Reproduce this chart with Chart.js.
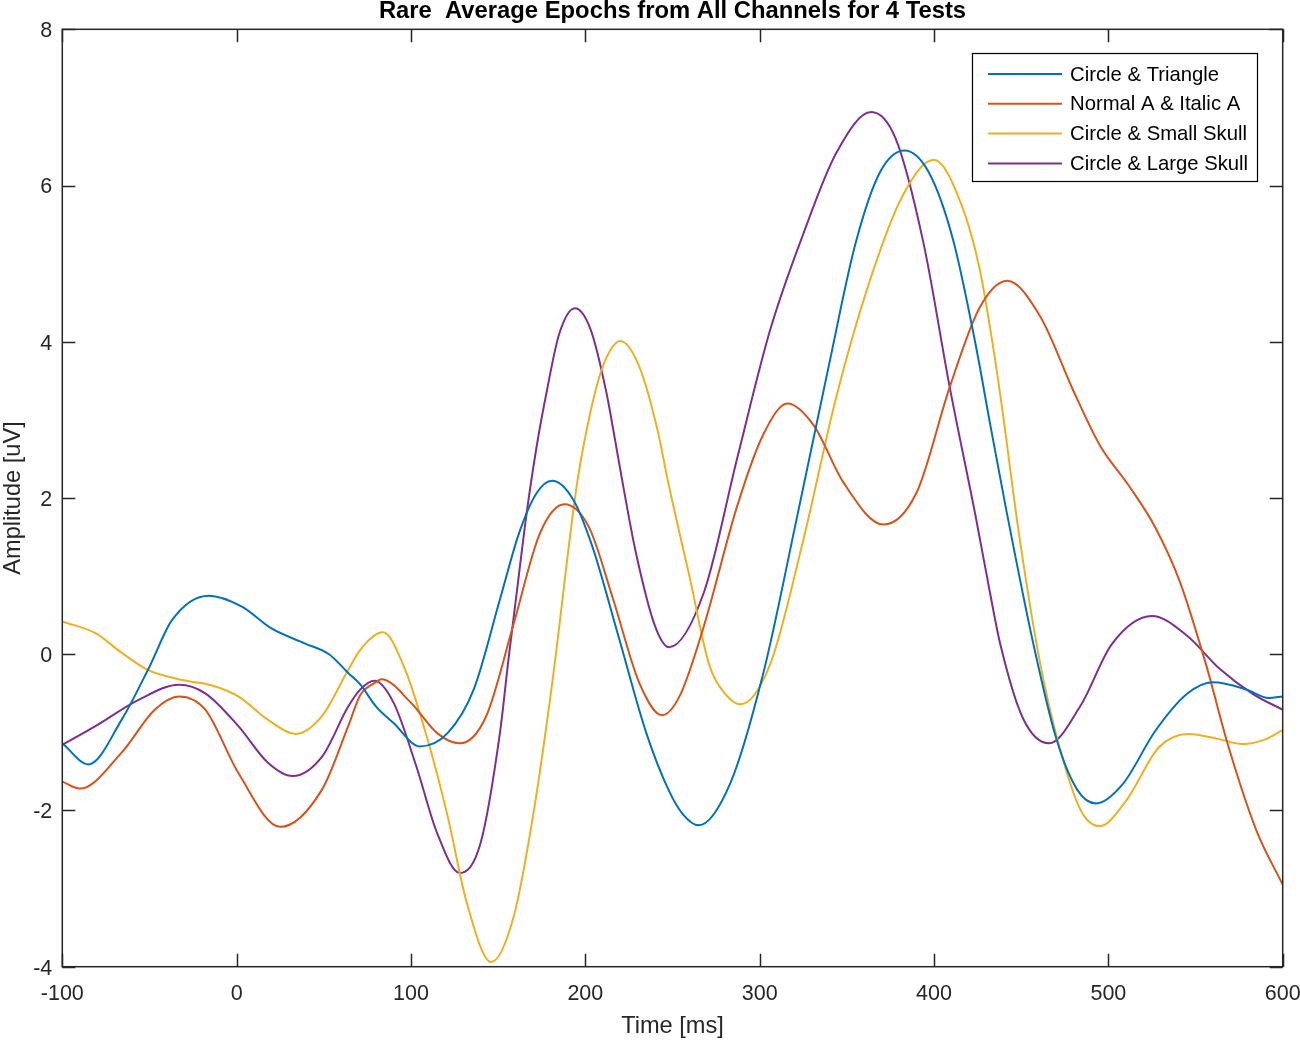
<!DOCTYPE html>
<html>
<head>
<meta charset="utf-8">
<script src="https://cdn.jsdelivr.net/npm/chart.js@4.4.1/dist/chart.umd.min.js"></script>
<style>
  html, body { margin: 0; padding: 0; background: #ffffff; }
  #wrap { width: 1300px; height: 1042px; }
</style>
</head>
<body>
<div id="wrap"><canvas id="c" width="1300" height="1042"></canvas></div>
<script>
// ---------- data ----------
const chartTitle = 'Rare  Average Epochs from All Channels for 4 Tests';
const xAxisLabel = 'Time [ms]';
const yAxisLabel = 'Amplitude [uV]';
const seriesNames = ['Circle & Triangle', 'Normal A & Italic A', 'Circle & Small Skull', 'Circle & Large Skull'];
const seriesColors = ['#0072BD', '#D95319', '#EDB120', '#7E2F8E'];
const xTickValues = [-100, 0, 100, 200, 300, 400, 500, 600];
const yTickValues = [-4, -2, 0, 2, 4, 6, 8];

// Circle & Triangle
const triangleTime = [-100, -85, -66, -50, -37, -16, 3, 20, 39, 53, 64, 71, 80, 90, 105, 121, 136, 151, 162, 172, 181, 193, 204, 219, 235, 248, 256, 265, 283, 302, 321, 340, 355, 369, 383, 397, 411, 424, 432, 441, 457, 470, 482, 493, 508, 527, 545, 560, 579, 592, 600];
const triangleAmp  = [-1.14, -1.41, -0.84, -0.16, 0.44, 0.75, 0.61, 0.33, 0.14, 0.0, -0.24, -0.39, -0.67, -0.88, -1.18, -1.01, -0.45, 0.70, 1.55, 2.06, 2.22, 1.98, 1.38, 0.23, -1.01, -1.75, -2.05, -2.19, -1.66, -0.25, 1.71, 3.73, 5.26, 6.17, 6.45, 6.17, 5.30, 3.95, 2.97, 1.90, 0.13, -1.07, -1.73, -1.91, -1.67, -0.98, -0.51, -0.36, -0.45, -0.56, -0.54];

// Normal A & Italic A
const italicTime = [-100, -90, -66, -47, -33, -18, 1, 25, 49, 64, 71, 79, 83, 100, 115, 128, 143, 159, 174, 188, 202, 216, 231, 244, 254, 268, 287, 302, 316, 331, 348, 371, 390, 409, 426, 442, 461, 480, 495, 512, 527, 541, 556, 569, 585, 600];
const italicAmp  = [-1.63, -1.72, -1.26, -0.71, -0.54, -0.71, -1.52, -2.21, -1.73, -0.92, -0.52, -0.37, -0.32, -0.62, -1.01, -1.14, -0.80, 0.40, 1.55, 1.92, 1.63, 0.70, -0.37, -0.78, -0.54, 0.36, 1.89, 2.81, 3.21, 2.93, 2.20, 1.66, 2.07, 3.42, 4.43, 4.78, 4.32, 3.37, 2.68, 2.15, 1.62, 0.93, -0.13, -1.19, -2.26, -2.95];

// Circle & Small Skull
const smallSkullTime = [-100, -81, -66, -51, -31, -14, 1, 18, 34, 49, 64, 71, 84, 96, 109, 121, 132, 146, 159, 170, 181, 195, 201, 208, 214, 220, 231, 241, 248, 260, 271, 280, 289, 306, 325, 344, 363, 382, 400, 416, 426, 432, 438, 449, 461, 472, 484, 495, 510, 529, 546, 564, 577, 590, 600];
const smallSkullAmp  = [0.42, 0.27, 0.02, -0.20, -0.33, -0.40, -0.54, -0.84, -1.02, -0.79, -0.20, 0.06, 0.28, -0.16, -1.05, -2.07, -3.18, -3.94, -3.35, -2.07, -0.37, 2.15, 2.90, 3.55, 3.88, 4.01, 3.68, 2.91, 2.15, 0.97, -0.13, -0.50, -0.64, -0.13, 1.46, 3.30, 4.77, 5.87, 6.33, 5.74, 4.95, 4.20, 3.32, 1.50, -0.13, -1.19, -1.99, -2.20, -1.88, -1.19, -1.02, -1.09, -1.15, -1.09, -0.97];

// Circle & Large Skull
const largeSkullTime = [-100, -81, -56, -33, -18, 1, 18, 32, 49, 64, 71, 79, 90, 103, 115, 128, 140, 151, 156, 161, 166, 172, 178, 185, 194, 203, 212, 217, 222, 229, 240, 248, 268, 287, 306, 325, 344, 364, 378, 394, 409, 424, 432, 438, 451, 466, 484, 502, 525, 545, 564, 583, 600];
const largeSkullAmp  = [-1.16, -0.92, -0.58, -0.39, -0.50, -0.92, -1.39, -1.56, -1.31, -0.67, -0.45, -0.34, -0.62, -1.43, -2.29, -2.80, -2.41, -1.01, -0.05, 0.85, 1.75, 2.65, 3.38, 4.10, 4.43, 4.16, 3.36, 2.75, 2.12, 1.30, 0.36, 0.09, 0.79, 2.50, 4.15, 5.38, 6.42, 6.94, 6.60, 5.26, 3.42, 1.75, 0.80, 0.13, -0.82, -1.14, -0.66, 0.13, 0.49, 0.24, -0.19, -0.51, -0.71];

// ---------- build ----------
const seriesTimes = [triangleTime, italicTime, smallSkullTime, largeSkullTime];
const seriesAmps = [triangleAmp, italicAmp, smallSkullAmp, largeSkullAmp];

const datasets = seriesNames.map((name, i) => ({
  label: name,
  data: seriesTimes[i].map((t, k) => ({ x: t, y: seriesAmps[i][k] })),
  borderColor: seriesColors[i],
  backgroundColor: seriesColors[i],
  borderWidth: 2,
  pointRadius: 0,
  fill: false,
  cubicInterpolationMode: 'monotone'
}));

const FONT = "'Liberation Sans', Arial, Helvetica, sans-serif";
const AXIS_COLOR = '#262626';

const framePlugin = {
  id: 'matlabFrame',
  afterDatasetsDraw(chart) {
    const { ctx, chartArea: a, scales: { x, y } } = chart;
    ctx.save();
    ctx.strokeStyle = AXIS_COLOR;
    ctx.lineWidth = 1.5;
    ctx.strokeRect(a.left, a.top, a.right - a.left, a.bottom - a.top);
    const L = 13;
    ctx.beginPath();
    x.ticks.forEach(t => {
      const px = Math.round(x.getPixelForValue(t.value)) + 0.5;
      ctx.moveTo(px, a.bottom); ctx.lineTo(px, a.bottom - L);
      ctx.moveTo(px, a.top); ctx.lineTo(px, a.top + L);
    });
    y.ticks.forEach(t => {
      const py = Math.round(y.getPixelForValue(t.value)) + 0.5;
      ctx.moveTo(a.left, py); ctx.lineTo(a.left + L, py);
      ctx.moveTo(a.right, py); ctx.lineTo(a.right - L, py);
    });
    ctx.stroke();

    // legend box (top-right, inside the axes)
    const bx = 972.5, by = 53.5, bw = 285, bh = 128;
    ctx.fillStyle = '#ffffff';
    ctx.fillRect(bx, by, bw, bh);
    ctx.lineWidth = 1.2;
    ctx.strokeStyle = '#000000';
    ctx.strokeRect(bx, by, bw, bh);
    ctx.font = '20.3px ' + FONT;
    ctx.textBaseline = 'middle';
    ctx.textAlign = 'left';
    chart.data.datasets.forEach((ds, i) => {
      const ry = 74 + i * 29.8;
      ctx.strokeStyle = ds.borderColor;
      ctx.lineWidth = 2;
      ctx.beginPath();
      ctx.moveTo(988, ry); ctx.lineTo(1062, ry);
      ctx.stroke();
      ctx.fillStyle = '#000000';
      ctx.fillText(ds.label, 1070, ry + 1);
    });
    ctx.restore();
  }
};

new Chart(document.getElementById('c'), {
  type: 'line',
  data: { datasets },
  options: {
    responsive: false,
    devicePixelRatio: 1,
    animation: false,
    events: [],
    layout: { padding: { left: 0, right: 17.3, top: 0, bottom: 0 } },
    plugins: {
      legend: { display: false },
      tooltip: { enabled: false },
      title: {
        display: true,
        text: chartTitle,
        fullSize: false,
        color: '#000000',
        font: { family: FONT, size: 23.8, weight: 'bold', lineHeight: 0.9 },
        padding: { top: 1.2, bottom: 6.7 }
      }
    },
    scales: {
      x: {
        type: 'linear',
        min: -100,
        max: 600,
        afterBuildTicks: (s) => { s.ticks = xTickValues.map(v => ({ value: v })); },
        afterFit: (s) => { s.height = 75.3; s.paddingLeft = 0; s.paddingRight = 0; },
        grid: { display: false, drawTicks: false },
        border: { display: false },
        ticks: {
          color: AXIS_COLOR,
          font: { family: FONT, size: 21.5 },
          padding: 14.4,
          maxRotation: 0,
          autoSkip: false
        },
        title: {
          display: true,
          text: xAxisLabel,
          color: AXIS_COLOR,
          font: { family: FONT, size: 23.6, lineHeight: 1 },
          padding: { top: 0, bottom: 4 }
        }
      },
      y: {
        type: 'linear',
        min: -4,
        max: 8,
        afterBuildTicks: (s) => { s.ticks = yTickValues.map(v => ({ value: v })); },
        afterFit: (s) => { s.width = 62.3; },
        grid: { display: false, drawTicks: false },
        border: { display: false },
        ticks: {
          color: AXIS_COLOR,
          font: { family: FONT, size: 21.5 },
          padding: 10,
          labelOffset: 2,
          autoSkip: false
        },
        title: {
          display: true,
          text: yAxisLabel,
          color: AXIS_COLOR,
          font: { family: FONT, size: 23.6, lineHeight: 1 },
          padding: { top: 1.6, bottom: 0 }
        }
      }
    }
  },
  plugins: [framePlugin]
});
</script>
</body>
</html>
